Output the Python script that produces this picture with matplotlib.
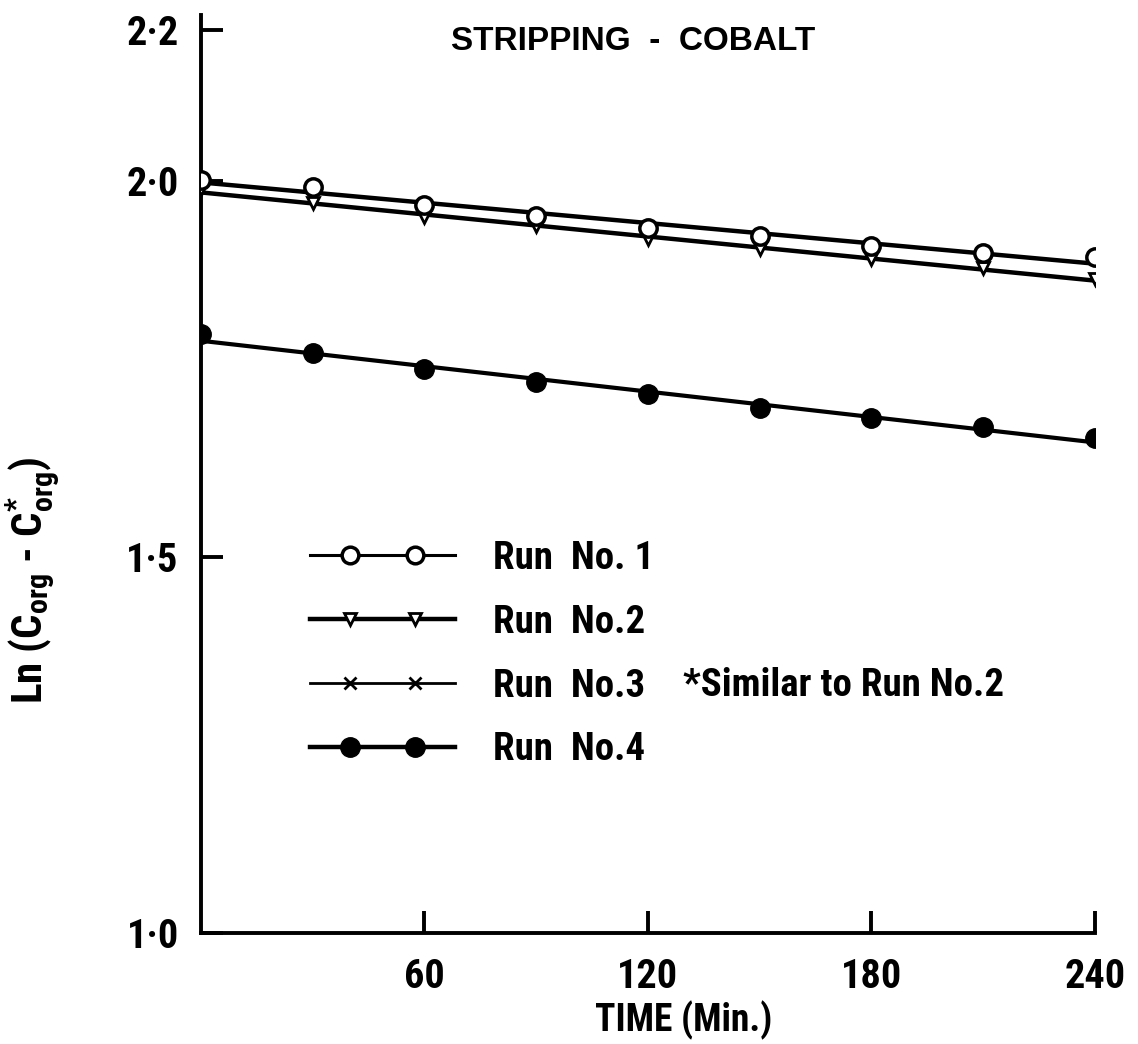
import numpy as np
import matplotlib
matplotlib.use("Agg")
from matplotlib import pyplot as plt
from matplotlib import font_manager
from matplotlib.lines import Line2D
from matplotlib.legend_handler import HandlerLine2DCompound

installed = set(f.name for f in font_manager.fontManager.ttflist)
narrow = 'Liberation Sans'
for name in ['Roboto Condensed', 'Liberation Sans Narrow']:
  if name in installed:
    narrow = name
    break
plt.rcParams['font.family'] = [narrow, 'DejaVu Sans']
plt.rcParams['mathtext.fontset'] = 'custom'
plt.rcParams['mathtext.rm'] = narrow + ':bold'
plt.rcParams['mathtext.default'] = 'rm'

# time (min) and Ln(Corg - C*org)
time = [0, 30, 60, 90, 120, 150, 180, 210, 240]
run1 = [2.001, 1.992, 1.967, 1.953, 1.937, 1.927, 1.913, 1.904, 1.898]
run2 = [1.989, 1.970, 1.951, 1.940, 1.923, 1.909, 1.896, 1.884, 1.869]
run4 = [1.796, 1.771, 1.749, 1.732, 1.716, 1.698, 1.684, 1.672, 1.658]

xticks = [60, 120, 180, 240]
yticks = [1.0, 1.5, 2.0, 2.2]
yticklabels = ['1\u00b70', '1\u00b75', '2\u00b70', '2\u00b72']

# text sizes: the narrow face can be larger for the same width
if narrow == 'Liberation Sans':
  legendSize = 25
else:
  legendSize = 28


def fitLine(x, y):
  """
  Least squares straight line through the points
  """
  slope, intercept = np.polyfit(x, y, 1)
  xs = np.array([x[0], x[-1]])
  return xs, slope * xs + intercept


class HandlerLineTwoMarkers(HandlerLine2DCompound):
  """
  Full length legend line with two markers set in from the ends
  """
  def get_xdata(self, legend, xdescent, ydescent, width, height, fontsize):
    pad = 40 / 1.389
    xline = np.array([-xdescent, -xdescent + width])
    xmark = np.array([-xdescent + pad, -xdescent + width - pad])
    return xline, xmark


fig = plt.figure(figsize=(11.38, 10.44), dpi=100)
ax = fig.add_axes([0.1766, 0.1063, 0.7855, 0.8793])

# fitted lines
for y, lw in [(run1, 3.2), (run2, 3.2), (run4, 3.0)]:
  xs, ys = fitLine(time, y)
  ax.plot(xs, ys, color='black', linewidth=lw, zorder=2)

# points
ax.plot(time, run2, linestyle='none', marker='v', markersize=8,
        markerfacecolor='white', markeredgecolor='black', markeredgewidth=2,
        zorder=3)
ax.plot(time, run1, linestyle='none', marker='o', markersize=12.5,
        markerfacecolor='white', markeredgecolor='black', markeredgewidth=2.5,
        zorder=4)
ax.plot(time, run4, linestyle='none', marker='o', markersize=14,
        markerfacecolor='black', markeredgecolor='black', zorder=4)

ax.set_xlim(0, 240)
ax.set_ylim(1.0, 2.22)

for side in ['top', 'right']:
  ax.spines[side].set_visible(False)
for side in ['left', 'bottom']:
  ax.spines[side].set_linewidth(2.8)

ax.set_xticks(xticks)
ax.set_xticklabels([str(t) for t in xticks])
ax.set_yticks(yticks)
ax.set_yticklabels(yticklabels)
ax.tick_params(axis='both', direction='in', length=16, width=2.8,
               labelsize=29)
ax.tick_params(axis='x', pad=18)
ax.tick_params(axis='y', pad=16)
for lab in ax.get_xticklabels() + ax.get_yticklabels():
  lab.set_fontweight('bold')

ax.set_xlabel('TIME (Min.)', fontsize=27, fontweight='bold')
ax.xaxis.set_label_coords(684 / 1138., 1 - 1001 / 1044.,
                          transform=fig.transFigure)
ax.set_ylabel(r'Ln (C$_{org}$ - C$^{*}_{org}$)', fontsize=31,
              fontweight='bold')
ax.yaxis.set_label_coords(62 / 1138., 1 - 580 / 1044.,
                          transform=fig.transFigure)

fig.text(633 / 1138., 1 - 42 / 1044., 'STRIPPING  -  COBALT',
         family=['Liberation Sans', 'DejaVu Sans'], fontsize=24,
         fontweight='bold', ha='center', va='center')

# legend
handles = [
  Line2D([], [], color='black', linewidth=2.2, marker='o', markersize=12,
         markerfacecolor='white', markeredgewidth=2.5),
  Line2D([], [], color='black', linewidth=3.2, marker='v', markersize=8,
         markerfacecolor='white', markeredgewidth=2),
  Line2D([], [], color='black', linewidth=2.0, marker='x', markersize=9,
         markeredgewidth=2),
  Line2D([], [], color='black', linewidth=3.2, marker='o', markersize=14,
         markerfacecolor='black'),
]
labels = ['Run  No. 1', 'Run  No.2', 'Run  No.3', 'Run  No.4']
fontPx = legendSize * 100 / 72.
leg = ax.legend(handles, labels, loc='upper left',
                bbox_to_anchor=(310 / 1138., 1 - 540 / 1044.),
                bbox_transform=fig.transFigure, frameon=False,
                borderpad=0, borderaxespad=0,
                handlelength=145 / fontPx, handletextpad=38 / fontPx,
                labelspacing=(64 - 37.2) / fontPx,
                prop={'size': legendSize, 'weight': 'bold'},
                handler_map={Line2D: HandlerLineTwoMarkers()})

fig.text(683 / 1138., 1 - 685 / 1044., '*Similar to Run No.2',
         fontsize=legendSize, fontweight='bold', va='center', ha='left')

plt.savefig('out.png', dpi=100)
